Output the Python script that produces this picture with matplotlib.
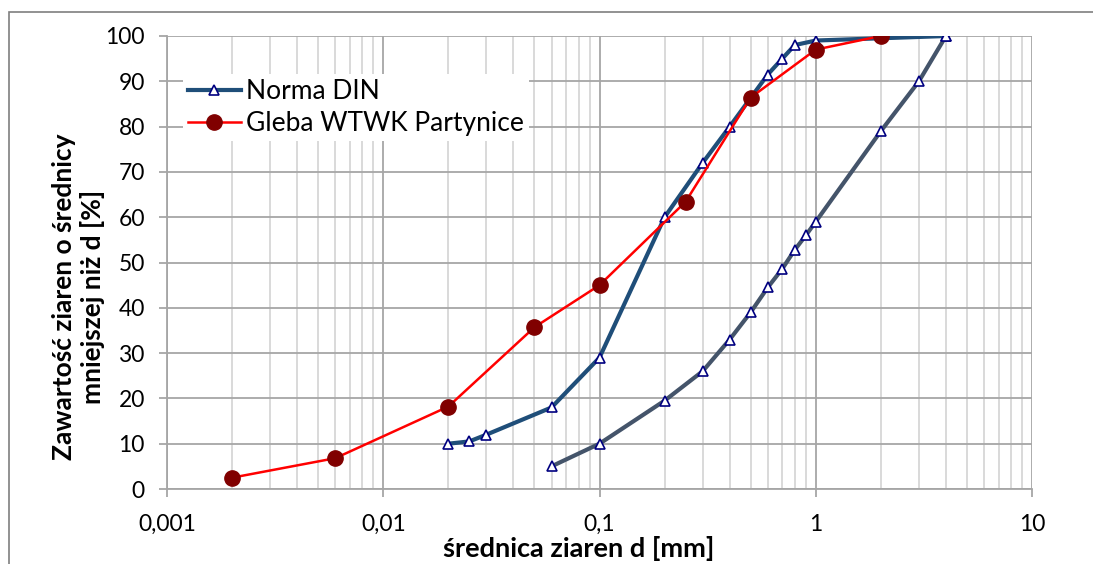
import matplotlib
matplotlib.use("Agg")
import matplotlib.pyplot as plt
from matplotlib.ticker import FixedLocator, FuncFormatter, LogLocator, NullFormatter
from matplotlib.patches import Rectangle

plt.rcParams['font.family'] = ['Lato', 'DejaVu Sans']

# DIN norm - upper and lower limits
din_upper_d = [0.02, 0.025, 0.03, 0.06, 0.1, 0.2, 0.3, 0.4, 0.6, 0.7, 0.8, 1, 4]
din_upper_p = [10, 10.5, 12, 18, 29, 60, 72, 80, 91.5, 95, 98, 99, 100]
din_lower_d = [0.06, 0.1, 0.2, 0.3, 0.4, 0.5, 0.6, 0.7, 0.8, 0.9, 1, 2, 3, 4]
din_lower_p = [5, 10, 19.5, 26, 33, 39, 44.5, 48.6, 52.8, 56, 59, 79, 90, 100]

# soil sample
soil_d = [0.002, 0.006, 0.02, 0.05, 0.1, 0.25, 0.5, 1, 2]
soil_p = [2.5, 6.8, 18.2, 35.7, 45, 63.4, 86.4, 97, 100]

x_ticks = [0.001, 0.01, 0.1, 1, 10]
x_ticklabels = ['0,001', '0,01', '0,1', '1', '10']

fig = plt.figure(figsize=(10.93, 5.64), dpi=100)
ax = fig.add_axes([167/1093, 1-489/564, (1032-167)/1093, (489-36)/564])

# outer frame of the chart
fig.patches.append(Rectangle((9/1093, -0.1), 1.2, 1.1 - 12/564, transform=fig.transFigure,
                             fill=False, edgecolor='#7f7f7f', linewidth=1.2))

ax.plot(din_upper_d, din_upper_p, color='#1F4E79', lw=3, marker='^', ms=7,
        mfc='white', mec='#000080', mew=1.2, label='Norma DIN', zorder=3)
ax.plot(din_lower_d, din_lower_p, color='#44546A', lw=3, marker='^', ms=7,
        mfc='white', mec='#000080', mew=1.2, zorder=3)
ax.plot(soil_d, soil_p, color='#FF0000', lw=1.8, marker='o', ms=11,
        mfc='#800000', mec='#800000', label='Gleba WTWK Partynice', zorder=4)

ax.set_xscale('log')
ax.set_xlim(0.001, 10)
ax.set_ylim(0, 100)
ax.set_yticks(range(0, 101, 10))
ax.xaxis.set_major_locator(FixedLocator(x_ticks))
ax.xaxis.set_major_formatter(FuncFormatter(lambda v, p: x_ticklabels[x_ticks.index(v)] if v in x_ticks else ''))
ax.xaxis.set_minor_locator(LogLocator(base=10, subs=range(2, 10)))
ax.xaxis.set_minor_formatter(NullFormatter())

ax.grid(which='major', axis='both', color='#A6A6A6', lw=1.3)
ax.grid(which='minor', axis='x', color='#D0D0D0', lw=1.1)
ax.set_axisbelow(True)

for s in ['top', 'right']:
    ax.spines[s].set_visible(False)
for s in ['left', 'bottom']:
    ax.spines[s].set_color('#A6A6A6')
    ax.spines[s].set_linewidth(1.3)

ax.tick_params(axis='both', which='major', length=6, color='#A6A6A6', width=1.3,
               labelsize=16.5)
ax.tick_params(axis='x', which='minor', length=0)
ax.tick_params(axis='x', which='major', pad=12)
ax.tick_params(axis='y', pad=10)

ax.set_xlabel('średnica ziaren d [mm]', fontsize=19.5, fontweight='bold')
ax.xaxis.set_label_coords(0.476, -0.104)
ax.set_ylabel('Zawartość ziaren o średnicy\nmniejszej niż d [%]', fontsize=19,
              fontweight='bold', linespacing=1.2)
ax.yaxis.set_label_coords(-0.072, 0.424)

leg = ax.legend(loc='upper left', bbox_to_anchor=(0.003, 0.945), fontsize=19,
                frameon=True, fancybox=False, edgecolor='none', framealpha=1,
                handlelength=2.0, borderpad=0.2, labelspacing=0.25, handletextpad=0.2)

fig.savefig('out.png', dpi=100)
